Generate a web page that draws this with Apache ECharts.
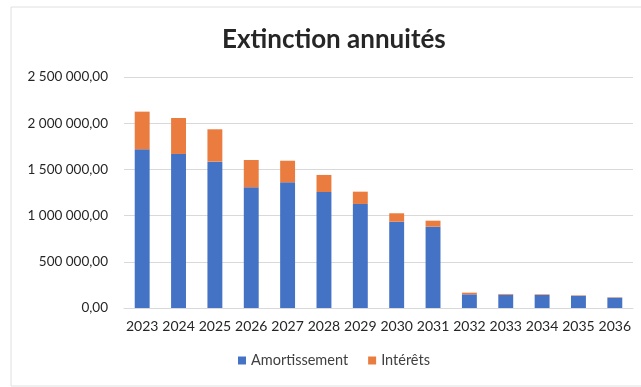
<!DOCTYPE html>
<html><head><meta charset="utf-8">
<script src="https://cdn.jsdelivr.net/npm/echarts@6/dist/echarts.min.js"></script>
<style>html,body{margin:0;padding:0;background:#fff}#c{width:641px;height:387px}</style>
</head><body><div id="c"></div>
<script>
const categories = ['2023','2024','2025','2026','2027','2028','2029','2030','2031','2032','2033','2034','2035','2036'];
const amortissement = [1717000,1667000,1584000,1306000,1360000,1255000,1126000,934000,880000,148000,145000,142000,132000,112000];
const interets = [408000,389000,350000,296000,234000,185000,133000,91000,65000,18000,7000,6000,5000,4000];
const yTicks = {min:0, max:2500000, interval:500000};

function frFormat(v){
  const parts = Math.round(v).toString().replace(/\B(?=(\d{3})+(?!\d))/g,' ');
  return parts + ',00';
}
const font = 'Lato, "Noto Sans", sans-serif';
const chart = echarts.init(document.getElementById('c'));
chart.setOption({
  animation:false,
  backgroundColor:'#fff',
  title:{text:'Extinction annuités', left:217, top:22,
    textStyle:{fontFamily:font, fontSize:26, fontWeight:'bold', color:'#262626'}},
  grid:{left:124, right:8, top:77, bottom:79, containLabel:false},
  legend:{bottom:14, left:233, itemWidth:8, itemHeight:8, itemGap:20, icon:'rect',
    textStyle:{fontFamily:font, fontSize:14.5, color:'#404040'}},
  xAxis:{type:'category', data:categories,
    axisLine:{lineStyle:{color:'#d9d9d9'}}, axisTick:{show:false},
    axisLabel:{fontFamily:font, fontSize:14, color:'#262626', margin:11, interval:0}},
  yAxis:{type:'value', min:yTicks.min, max:yTicks.max, interval:yTicks.interval,
    axisLine:{show:false}, axisTick:{show:false},
    splitLine:{lineStyle:{color:'#d9d9d9'}},
    axisLabel:{fontFamily:font, fontSize:13.5, color:'#262626', margin:16, formatter:frFormat}},
  series:[
    {name:'Amortissement', type:'bar', stack:'t', data:amortissement, barWidth:'41%', itemStyle:{color:'#4472C4'}},
    {name:'Intérêts', type:'bar', stack:'t', data:interets, itemStyle:{color:'#E97C3E'}}
  ],
  graphic:[
    {type:'line', shape:{x1:11,y1:7,x2:641,y2:7}, style:{stroke:'#e0e0e0', lineWidth:1}},
    {type:'line', shape:{x1:11,y1:7,x2:11,y2:386}, style:{stroke:'#e0e0e0', lineWidth:1}},
    {type:'line', shape:{x1:11,y1:386,x2:641,y2:386}, style:{stroke:'#e0e0e0', lineWidth:1}}
  ]
});
</script></body></html>
